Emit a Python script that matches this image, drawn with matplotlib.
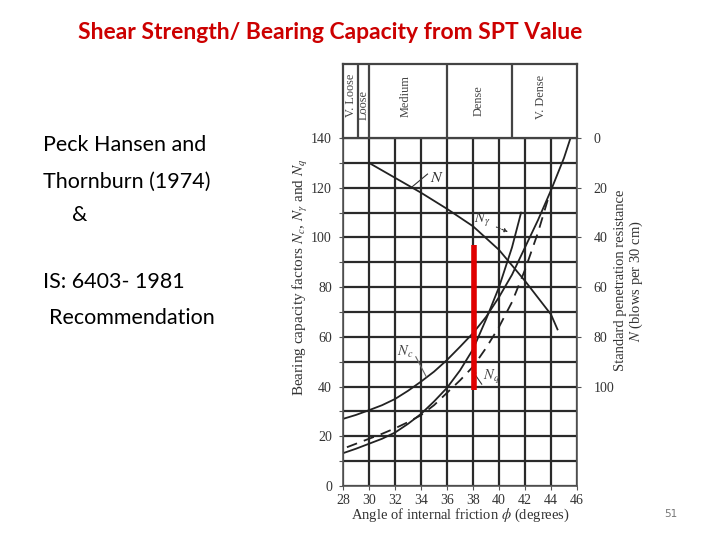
import matplotlib
matplotlib.use("Agg")
import matplotlib.pyplot as plt

# bearing capacity factor curves (phi in degrees)
phi_nc = [28, 29, 30, 31, 32, 33, 34, 35, 36, 37, 38, 39, 40, 41, 42, 43, 44, 45, 45.5]
nc = [27, 28.6, 30.5, 32.5, 35, 38.3, 42, 46, 50.7, 56, 61.5, 68, 76, 85, 96, 107, 119, 132, 140]

phi_ngamma = [28, 29, 30, 31, 32, 33, 34, 35, 36, 37, 38, 39, 40, 41, 41.7]
ngamma = [13.2, 15, 17, 19, 21.5, 25, 29, 34, 39.5, 46.5, 55, 67, 80, 96, 110]

phi_nq = [28.3, 29, 30, 31, 32, 33, 34, 35, 36, 37, 38, 39, 40, 41, 42, 43, 43.8]
nq = [15.6, 17, 19, 21, 23.2, 25.7, 28.5, 32.5, 37.5, 42.5, 48, 55.5, 64, 74, 87, 102, 116]

# SPT N value vs phi (right axis, inverted)
phi_n = [30, 32, 34, 36, 38, 40, 42, 44, 44.5]
spt_n = [10, 16, 22, 28.5, 35.5, 45, 57.5, 71, 77]

# density bands along the top
band_edges = [28, 29.15, 30, 36, 41, 46]
band_labels = ["V. Loose", "Loose", "Medium", "Dense", "V. Dense"]
band_label_x = [28.65, 29.55, 32.8, 38.4, 43.2]
band_label_y = [0.58, 0.44, 0.57, 0.50, 0.56]

# highlighted phi range marker
red_phi = 38.1
red_lo, red_hi = 38.6, 97

plt.rcParams['mathtext.fontset'] = 'stix'
serif = 'Liberation Serif'
slide_font = 'Lato'

fig = plt.figure(figsize=(7.2, 5.4), dpi=100)

ax = fig.add_axes([0.4764, 0.1, 0.325, 0.6444])
ax.set_xlim(28, 46)
ax.set_ylim(0, 140)
ax.set_xticks(range(28, 47, 2))
ax.set_yticks(range(0, 141, 20))
ax.set_yticks(range(10, 141, 20), minor=True)
ax.grid(which='both', color='#2a2a2a', lw=1.6)
ax.tick_params(which='both', length=3, width=0.8, colors='#555555',
               labelcolor='#333333', labelsize=10, pad=5)
ax.tick_params(axis='x', pad=3)
for lbl in ax.get_xticklabels() + ax.get_yticklabels():
    lbl.set_fontfamily(serif)
for s in ax.spines.values():
    s.set_color('#555555')
    s.set_linewidth(1.2)

ax.plot(phi_nc, nc, color='#222222', lw=1.3)
ax.plot(phi_ngamma, ngamma, color='#222222', lw=1.3)
ax.plot(phi_nq, nq, color='#222222', lw=1.3, ls=(0, (6, 4)))

ax2 = ax.twinx()
ax2.set_ylim(140, 0)
ax2.set_yticks(range(0, 101, 20))
ax2.tick_params(length=3, width=0.8, colors='#555555', labelcolor='#333333',
                labelsize=10, pad=9)
for lbl in ax2.get_yticklabels():
    lbl.set_fontfamily(serif)
for s in ax2.spines.values():
    s.set_visible(False)
ax2.plot(phi_n, spt_n, color='#222222', lw=1.3)

# red marker
ax.plot([red_phi, red_phi], [red_lo, red_hi], color='#e00000', lw=4,
        solid_capstyle='butt', zorder=5)

# curve labels
ax.text(35.2, 124.3, '$N$', fontsize=11.5, ha='center', va='center', color='#333333')
ax.plot([34.5, 33.3], [125.5, 120.3], color='#333333', lw=0.8)
ax.text(38.7, 107, r'$N_\gamma$', fontsize=10.5, ha='center', va='center', color='#333333')
ax.annotate('', xy=(40.9, 101.8), xytext=(39.6, 104.6),
            arrowprops=dict(arrowstyle='-|>', color='#333333', lw=0.8, ls=':',
                            mutation_scale=6))
ax.text(32.8, 53.9, '$N_c$', fontsize=10.5, ha='center', va='center', color='#444444')
ax.plot([33.6, 34.4], [52, 44], color='#666666', lw=0.8)
ax.text(39.4, 43.8, '$N_q$', fontsize=10.5, ha='center', va='center', color='#444444')
ax.annotate('', xy=(37.8, 47.5), xytext=(38.8, 40),
            arrowprops=dict(arrowstyle='-|>', color='#333333', lw=0.8,
                            mutation_scale=6))

# density band strip
axb = fig.add_axes([0.4764, 0.7444, 0.325, 0.137])
axb.set_xlim(28, 46)
axb.set_ylim(0, 1)
axb.set_xticks([])
axb.set_yticks([])
for s in axb.spines.values():
    s.set_color('#444444')
    s.set_linewidth(1.6)
for e in band_edges[1:-1]:
    axb.axvline(e, color='#444444', lw=1.6)
for x, y, t in zip(band_label_x, band_label_y, band_labels):
    axb.text(x, y, t, rotation=90, ha='center', va='center', fontsize=8.8,
             family=serif, color='#444444')

# axis labels
fig.text(0.417, 0.487, r'Bearing capacity factors $N_c$, $N_\gamma$ and $N_q$',
         rotation=90, ha='center', va='center', fontsize=11, family=serif,
         color='#333333')
fig.text(0.874, 0.48, 'Standard penetration resistance\n$N$ (blows per 30 cm)',
         rotation=90, ha='center', va='center', fontsize=10.5, family=serif,
         color='#333333', linespacing=1.05)
fig.text(0.64, 0.046, r'Angle of internal friction $\phi$ (degrees)',
         ha='center', va='center', fontsize=10.5, family=serif, color='#333333')

# slide text
fig.text(0.458, 0.939, 'Shear Strength/ Bearing Capacity from SPT Value',
         ha='center', va='center', fontsize=16.5, fontweight='bold',
         family=slide_font, color='#cc0000')
left_lines = [(0.0597, 0.7315, 'Peck Hansen and'),
              (0.0597, 0.663, 'Thornburn (1974)'),
              (0.100, 0.602, '&'),
              (0.0597, 0.478, 'IS: 6403- 1981'),
              (0.068, 0.411, 'Recommendation')]
for x, y, t in left_lines:
    fig.text(x, y, t, ha='left', va='center', fontsize=15.5, family=slide_font,
             color='black')
fig.text(0.931, 0.048, '51', ha='center', va='center', fontsize=7.5,
         family='DejaVu Sans', color='#777777')

fig.savefig('out.png', dpi=100)
